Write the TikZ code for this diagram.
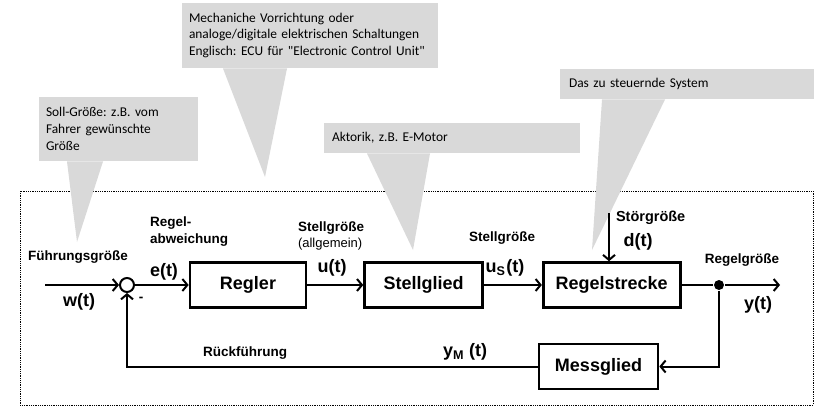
\documentclass[tikz,border=0pt]{standalone}
\usepackage{fontspec}
\setmainfont{Liberation Sans}
\newfontfamily\notefont{Carlito}
\usetikzlibrary{positioning,arrows.meta}
\definecolor{notegray}{HTML}{D9D9D9}
\frenchspacing

\begin{document}
\begin{tikzpicture}[
      x=1pt, y=-1pt,
      line width=2pt,
      block/.style={draw, line width=2.6pt, minimum height=45pt, inner sep=0pt,
                    font=\fontsize{18}{20}\selectfont\bfseries},
      sig/.style={inner sep=0pt, font=\fontsize{18}{20}\selectfont\bfseries},
      lbl/.style={inner sep=0pt, align=left, font=\fontsize{13.5}{17}\selectfont\bfseries},
      note/.style={fill=notegray, anchor=north west, align=left, inner xsep=7pt,
                   inner ysep=0pt, font=\fontsize{13.4}{16.7}\selectfont\notefont},
      flow/.style={-{Straight Barb[length=5pt, width=12pt, line width=2pt]}},
    ]
    \useasboundingbox (0,0) rectangle (818,406);
    % dotted frame round the loop
    \draw[densely dotted, line width=0.8pt] (20,191) rectangle (813,405);
    % grey callouts with their pointers
    \node[note, text width=145pt, minimum height=64pt] (soll) at (38,96)
      {\mbox{Soll-Größe: z.B. vom}\\\mbox{Fahrer gewünschte}\\Größe};
    \node[note, text width=242pt, minimum height=65pt] (ecu) at (181,2)
      {\mbox{Mechaniche Vorrichtung oder}\\\mbox{analoge/digitale elektrischen Schaltungen}\\\mbox{Englisch: ECU für "Electronic Control Unit"}};
    \node[note, text width=240pt, minimum height=30pt, inner xsep=8pt] (aktor) at (323,122)
      {\mbox{Aktorik, z.B. E-Motor}};
    \node[note, text width=236pt, minimum height=30pt, inner xsep=9pt] (system) at (559,68)
      {\mbox{Das zu steuernde System}};
    \coordinate (sollTip) at (77,242);
    \coordinate (ecuTip) at (265,177);
    \coordinate (aktorTip) at (413,250);
    \coordinate (systemTip) at (592,250);
    \fill[notegray] ([xshift=29pt, yshift=0.5pt]soll.south west) -- ([xshift=65pt, yshift=0.5pt]soll.south west) -- (sollTip) -- cycle;
    \fill[notegray] ([xshift=42pt, yshift=0.5pt]ecu.south west) -- ([xshift=106pt, yshift=0.5pt]ecu.south west) -- (ecuTip) -- cycle;
    \fill[notegray] ([xshift=44pt, yshift=0.5pt]aktor.south west) -- ([xshift=107pt, yshift=0.5pt]aktor.south west) -- (aktorTip) -- cycle;
    \fill[notegray] ([xshift=43pt, yshift=0.5pt]system.south west) -- ([xshift=106pt, yshift=0.5pt]system.south west) -- (systemTip) -- cycle;
    % forward path
    \node[circle, draw, minimum size=14pt, inner sep=0pt] (sum) at (127,285) {};
    \node[block, minimum width=116pt] (regler) at (248,285) {Regler};
    \node[block, minimum width=118pt, right=56pt of regler] (stell) {Stellglied};
    \node[block, minimum width=137pt, right=58pt of stell] (strecke) {Regelstrecke};
    \node[circle, fill, minimum size=10pt, inner sep=0pt] (branch) at (719,285) {};
    \node[block, minimum width=119pt] (mess) at (598.5,366.5) {Messglied};
    \coordinate (wIn) at (45,285);
    \coordinate (yOut) at (780,285);
    \coordinate (dIn) at (609,213);
    % labels
    \node[lbl] (fg) at (78,257) {Führungsgröße};
    \node[sig] (w) at (79,302) {w(t)};
    \node[lbl] (minus) at (141,299) {-};
    \node[lbl, anchor=west] (abw) at (149,231.5) {Regel-\\abweichung};
    \node[sig, anchor=west] (e) at (149,272) {e(t)};
    \node[lbl, anchor=west] (sg1) at (297,228) {Stellgröße};
    \node[inner sep=0pt, anchor=west, font=\fontsize{13}{15}\selectfont] (allg) at (297,244) {(allgemein)};
    \node[sig] (u) at (332,268) {u(t)};
    \node[lbl] (sg2) at (502,238) {Stellgröße};
    \node[sig] (us) at (505,268) {u\textsubscript{S}\kern1pt(t)};
    \node[lbl, anchor=west, font=\fontsize{14.5}{17}\selectfont\bfseries] (sto) at (615,218) {Störgröße};
    \node[sig] (d) at (638,242) {d(t)};
    \node[lbl] (rg) at (742,260) {Regelgröße};
    \node[sig] (y) at (758,305) {y(t)};
    \node[lbl] (rf) at (245,353) {Rückführung};
    \node[sig] (ym) at (465,352) {y\textsubscript{M} (t)};
    % connectors
    \draw[flow] (wIn) -- (sum);
    \draw[flow] (sum) -- (regler);
    \draw[flow] (regler) -- (stell);
    \draw[flow] (stell) -- (strecke);
    \draw (strecke) -- (branch);
    \draw[flow] (branch) -- (yOut);
    \draw[flow] (dIn) -- (strecke.north -| dIn);
    \draw[flow] (branch) |- (mess);
    \draw[flow] (mess) -| (sum);
  \end{tikzpicture}
\end{document}
